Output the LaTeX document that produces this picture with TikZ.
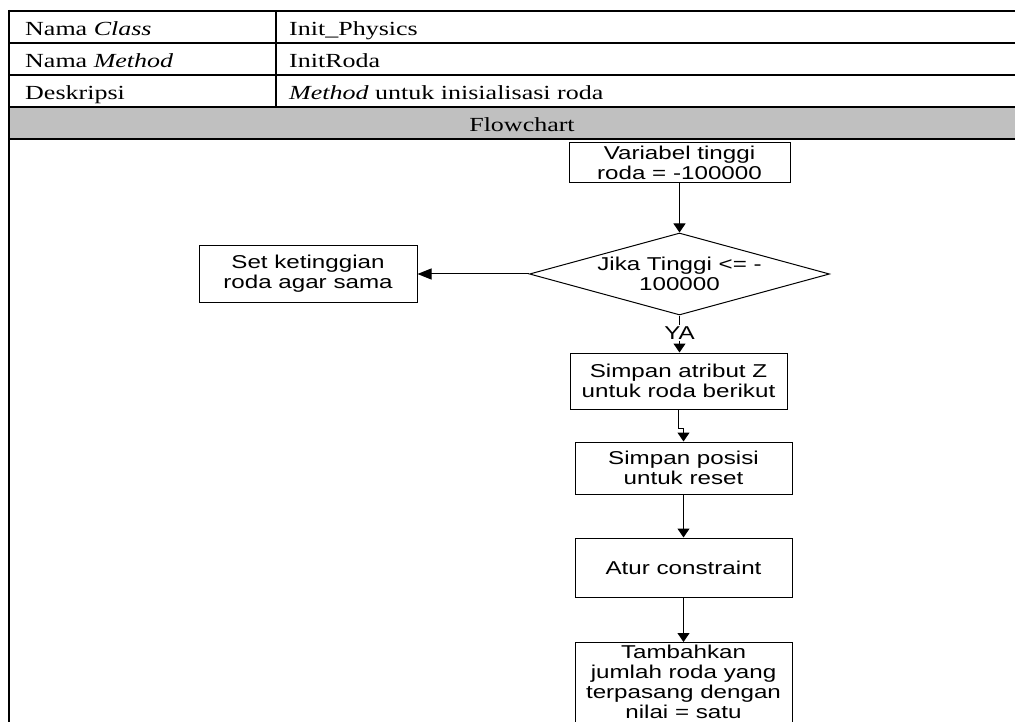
\documentclass[tikz,border=0pt]{standalone}
\usepackage{fontspec}
\usetikzlibrary{shapes.geometric,arrows.meta}
\newfontfamily\tabfont[FakeStretch=1.3]{Liberation Serif}
\newfontfamily\flowfont[FakeStretch=1.3]{Liberation Sans}
\definecolor{headgray}{HTML}{C0C0C0}
\begin{document}
\begin{tikzpicture}[x=1pt,y=-1pt,
  tabline/.style={line width=2pt,black},
  tabtext/.style={anchor=base west,inner sep=0pt,font=\tabfont\fontsize{20}{24}\selectfont},
  flowtext/.style={align=center,inner sep=0pt,font=\flowfont\fontsize{18.6}{20}\selectfont},
  procbox/.style={flowtext,draw=black,line width=1pt,fill=white,rectangle},
  decbox/.style={draw=black,line width=1pt,fill=white,diamond,inner sep=0pt},
  conn/.style={line width=1pt,black},
  arrv/.style={conn,-{Triangle[length=9pt,width=12pt]}},
  arrh/.style={conn,-{Triangle[length=14pt,width=11pt]}}]
\useasboundingbox (0,0) rectangle (1015,722);
\clip (0,0) rectangle (1015,722);

% header table
\fill[headgray] (9,107) rectangle (1015,139);
\foreach \yy in {11,43,75,107,139}
  \draw[tabline] (8,\yy) -- (1015,\yy);
\draw[tabline] (9,10) -- (9,722);
\draw[tabline] (275.5,11) -- (275.5,107);

\node[tabtext] (k1) at (25,36) {Nama \textit{Class}};
\node[tabtext] (v1) at (289,36) {Init\_Physics};
\node[tabtext] (k2) at (25,68) {Nama \textit{Method}};
\node[tabtext] (v2) at (289,68) {InitRoda};
\node[tabtext] (k3) at (25,100) {Deskripsi};
\node[tabtext] (v3) at (289,100) {\textit{Method} untuk inisialisasi roda};
\node[tabtext,anchor=base] (fc) at (522,132) {Flowchart};

% flowchart
\node[procbox,minimum width=221pt,minimum height=40pt] (b1) at (679.5,163)
  {Variabel tinggi\\roda = -100000};
\node[decbox,minimum width=300pt,minimum height=82pt] (dec) at (679.5,274) {};
\node[flowtext] (dect) at (dec.center) {Jika Tinggi <= -\\100000};
\node[procbox,minimum width=218pt,minimum height=56pt] (set) at (308,274)
  {Set ketinggian\\roda agar sama};
\node[flowtext,inner sep=1pt] (ya) at (679.5,333) {YA};
\node[procbox,minimum width=217pt,minimum height=56pt] (b2) at (678.5,381)
  {Simpan atribut Z\\untuk roda berikut};
\node[procbox,minimum width=217pt,minimum height=52pt] (b3) at (683.5,468)
  {Simpan posisi\\untuk reset};
\node[procbox,minimum width=217pt,minimum height=59pt] (b4) at (683.5,567.5)
  {Atur constraint};
\node[procbox,minimum width=217pt,minimum height=110pt,anchor=north] (b5) at (683.5,642)
  {};
\node[flowtext,anchor=north] (b5t) at (b5.north)
  {\rule{0pt}{16pt}Tambahkan\\jumlah roda yang\\terpasang dengan\\nilai = satu};

\draw[arrv] (b1.south) -- (dec.north);
\draw[arrh] (dec.west) -- (set.east);
\draw[conn] (dec.south) -- (ya.north);
\draw[arrv] (ya.south) -- (ya.south |- b2.north);
\draw[arrv] (b2.south) -- ++(0,19) -| (b3.north);
\draw[arrv] (b3.south) -- (b4.north);
\draw[arrv] (b4.south) -- (b5.north);
\end{tikzpicture}
\end{document}
